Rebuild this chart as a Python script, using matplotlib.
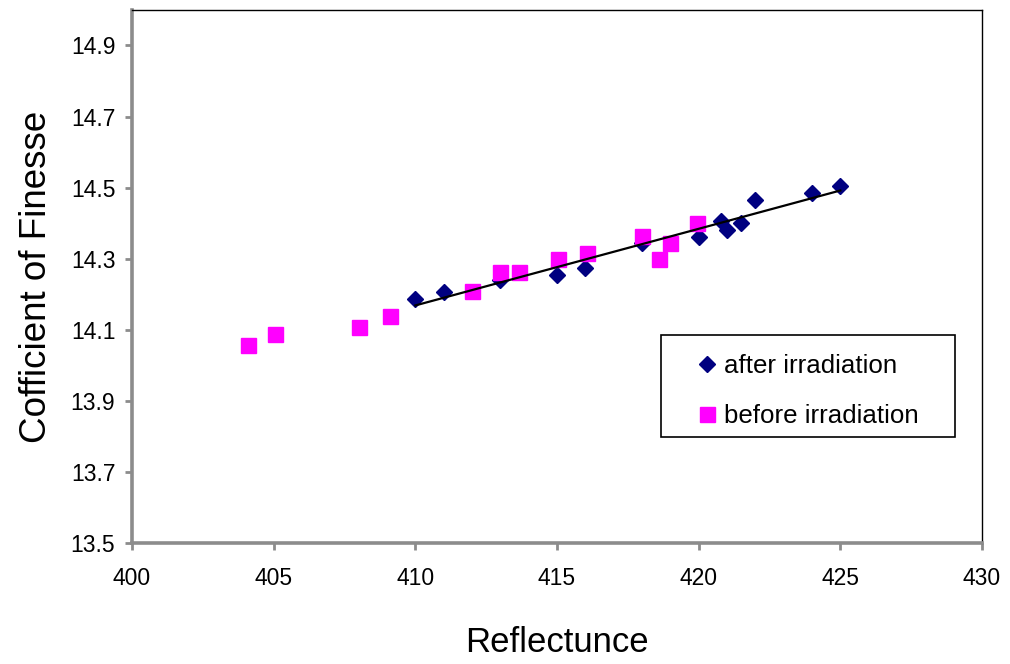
import numpy as np
import matplotlib
matplotlib.use("Agg")
import matplotlib.pyplot as plt
from matplotlib.patches import Rectangle

plt.rcParams['font.family'] = ['Liberation Sans', 'DejaVu Sans']

# Measurements after irradiation
after_x = [410.0, 411.0, 413.0, 415.0, 416.0, 418.0, 420.0, 420.8, 421.0, 421.5, 422.0, 424.0, 425.0]
after_y = [14.187, 14.205, 14.240, 14.253, 14.273, 14.345, 14.360, 14.405, 14.380, 14.400, 14.466, 14.486, 14.505]

# Measurements before irradiation
before_x = [404.1, 405.05, 408.0, 409.1, 412.0, 413.0, 413.65, 415.05, 416.05, 418.0, 418.6, 419.0, 419.95]
before_y = [14.056, 14.087, 14.107, 14.140, 14.208, 14.264, 14.264, 14.300, 14.315, 14.365, 14.300, 14.345, 14.400]

x_ticks = [400, 405, 410, 415, 420, 425, 430]
y_ticks = [13.5, 13.7, 13.9, 14.1, 14.3, 14.5, 14.7, 14.9]

fig = plt.figure(figsize=(10.1, 6.64), dpi=100)
ax = fig.add_axes([0.1307, 0.1822, 0.8416, 0.8028])

ax.plot(after_x, after_y, linestyle='none', marker='D', markersize=7.8,
        color='#000080', label='after irradiation', zorder=3)
ax.plot(before_x, before_y, linestyle='none', marker='s', markersize=10.8,
        color='#ff00ff', label='before irradiation', zorder=4)

# Linear trend of the irradiated series
coef = np.polyfit(after_x, after_y, 1)
fx = np.array([min(after_x), max(after_x)])
ax.plot(fx, np.polyval(coef, fx), color='black', linewidth=1.6, zorder=5)

ax.set_xlim(400, 430)
ax.set_ylim(13.5, 15.0)
ax.set_xticks(x_ticks)
ax.set_yticks(y_ticks)
ax.set_yticklabels([f"{v:.1f}" for v in y_ticks])

for side in ('left', 'bottom'):
    ax.spines[side].set_color('#8c8c8c')
    ax.spines[side].set_linewidth(2.6)
for side in ('top', 'right'):
    ax.spines[side].set_color('black')
    ax.spines[side].set_linewidth(1.0)

ax.tick_params(axis='both', direction='out', length=5, width=2.0,
               color='#8c8c8c', labelsize=16.5, labelcolor='black')
ax.tick_params(axis='x', pad=12)
ax.tick_params(axis='y', pad=7)

ax.set_xlabel('Reflectunce', fontsize=25, labelpad=26)
ax.set_ylabel('Cofficient of Finesse', fontsize=26.5, labelpad=12)

# Legend box drawn as its own rectangle, entries placed inside it
ax.add_patch(Rectangle((0.6224, 0.1989), 0.3459, 0.1914, transform=ax.transAxes,
                       facecolor='white', edgecolor='black', linewidth=1.2,
                       zorder=6))
leg = ax.legend(loc='upper left', bbox_to_anchor=(0.6676, 0.355), fontsize=18.6,
                frameon=False, handlelength=0.6, handletextpad=0.33,
                borderpad=0.0, labelspacing=1.0, borderaxespad=0.0)
leg.set_zorder(7)

fig.savefig('out.png', dpi=100)
